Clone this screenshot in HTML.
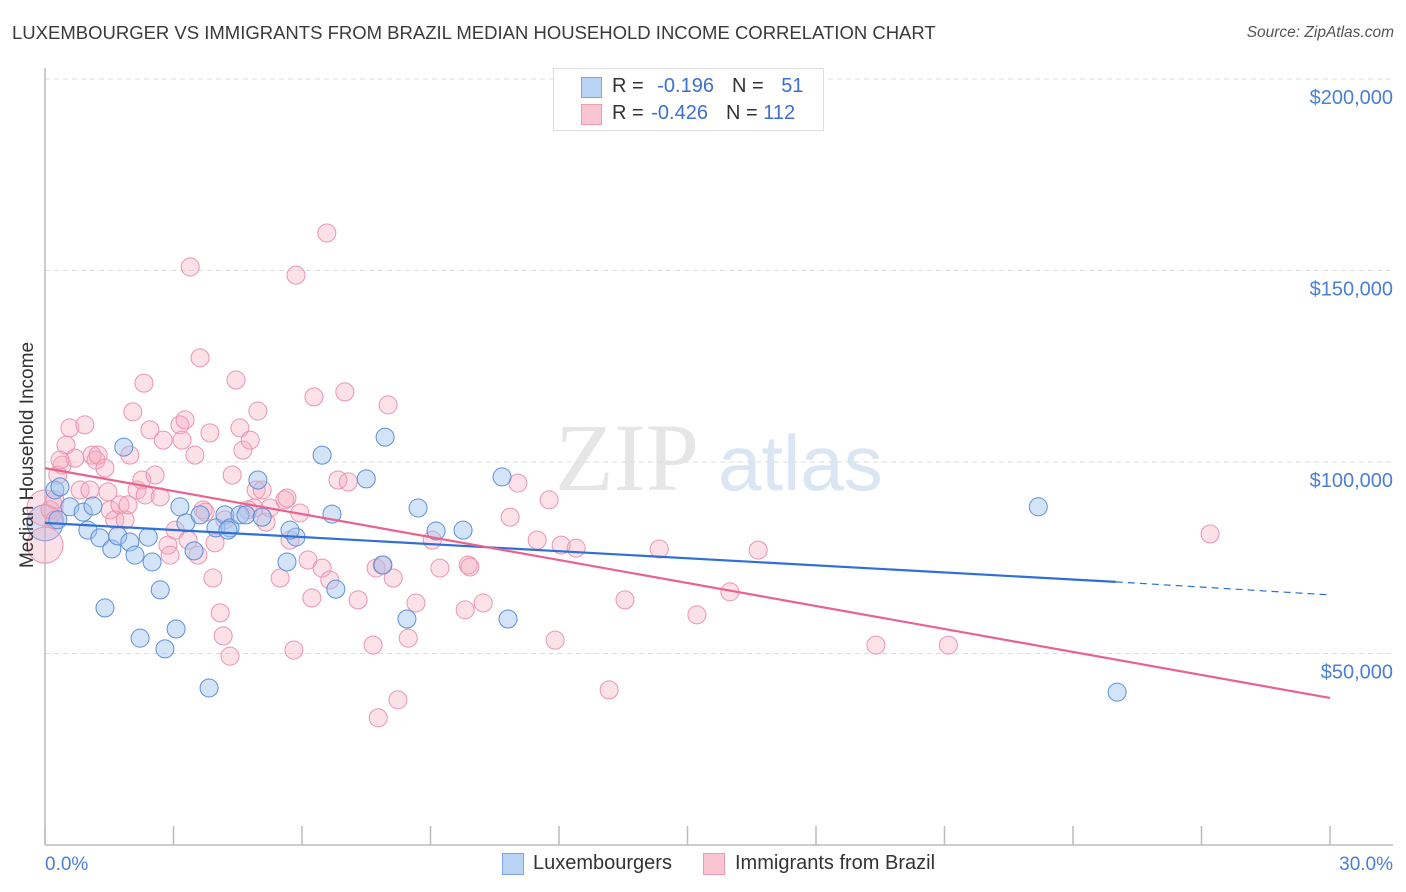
<!DOCTYPE html>
<html><head><meta charset="utf-8"><style>
body{margin:0;background:#fff;font-family:"Liberation Sans",sans-serif;}
#wrap{position:relative;width:1406px;height:892px;overflow:hidden;}
.t{position:absolute;white-space:nowrap;}
</style></head><body>
<div id="wrap">
<div class="t" style="left:12px;top:22px;font-size:18.5px;color:#3a3a3a">LUXEMBOURGER VS IMMIGRANTS FROM BRAZIL MEDIAN HOUSEHOLD INCOME CORRELATION CHART</div>
<div class="t" style="right:12px;top:24px;font-size:15.5px;color:#555;font-style:italic">Source: ZipAtlas.com</div>
<svg id="plot" width="1406" height="892" style="position:absolute;left:0;top:0"></svg>
<div class="t" style="left:16px;top:455px;transform:translate(-50%,-50%) rotate(-90deg);transform-origin:center;margin-left:12px;font-size:19px;color:#333">Median Household Income</div>
<div style="position:absolute;left:553px;top:68px;width:269px;height:61px;border:1px solid #ddd;background:#fff">
 <div style="position:absolute;left:27px;top:8px;width:19px;height:19px;background:#b9d3f5;border:1px solid #7aa6e6"></div>
 <div style="position:absolute;left:27px;top:35px;width:19px;height:19px;background:#f9c5d3;border:1px solid #ee9ab2"></div>
 <div class="t" style="left:58px;top:6px;font-size:20px;color:#333">R = <span style="color:#3d6fcf;margin-left:8px">-0.196</span><span style="margin-left:18px">N = </span><span style="color:#3d6fcf;margin-left:12px">51</span></div>
 <div class="t" style="left:58px;top:33px;font-size:20px;color:#333">R = <span style="color:#3d6fcf;margin-left:2px">-0.426</span><span style="margin-left:18px">N = </span><span style="color:#3d6fcf">112</span></div>
</div>
<div style="position:absolute;left:502px;top:853px;width:20px;height:20px;background:#b9d3f5;border:1px solid #7aa6e6"></div>
<div class="t" style="left:533px;top:852px;font-size:20px;color:#333">Luxembourgers</div>
<div style="position:absolute;left:703px;top:853px;width:20px;height:20px;background:#f9c5d3;border:1px solid #ee9ab2"></div>
<div class="t" style="left:735px;top:852px;font-size:20px;color:#333">Immigrants from Brazil</div>
</div>
<script>
const yTicks=[50000,100000,150000,200000];
const yTickLabels=["$50,000","$100,000","$150,000","$200,000"];
const xEnds=["0.0%","30.0%"];
const luxX=[0.23,0.35,0.30,0.58,0.89,1.12,1.00,1.28,1.56,1.70,1.84,1.98,2.10,2.41,2.50,2.69,1.40,2.22,2.80,3.06,3.15,3.29,3.48,3.83,3.99,4.20,4.32,4.55,4.69,4.97,5.07,5.65,5.86,6.47,6.70,6.79,7.50,7.89,7.94,8.45,8.71,9.13,9.76,10.67,10.81,23.19,25.03,3.62,4.27,5.72];
const luxY=[92.7,93.5,84.9,88.3,86.9,88.5,82.2,80.2,77.3,80.7,103.9,79.1,75.7,80.4,73.9,66.6,61.9,54.0,51.2,56.4,88.3,84.1,76.8,41.0,82.8,86.2,82.8,86.2,86.2,95.3,85.6,73.9,80.4,101.8,86.4,66.8,95.6,73.1,106.5,59.0,88.0,82.0,82.2,96.1,59.0,88.3,39.9,86.2,82.2,82.2];
const braX=[0.12,0.23,0.30,0.40,0.49,0.58,0.70,0.35,0.82,0.93,1.05,1.10,1.19,1.24,1.40,1.47,1.52,1.63,1.75,1.87,1.94,1.98,2.05,2.15,2.26,2.31,2.34,2.45,2.57,2.69,2.76,2.87,2.92,3.04,3.15,3.20,3.27,3.34,3.39,3.50,3.57,3.62,3.69,3.74,3.85,3.92,3.97,4.09,4.16,4.20,4.32,4.37,4.46,4.55,4.62,4.74,4.79,4.88,4.93,4.97,5.07,5.16,5.25,5.49,5.60,5.65,5.72,5.81,5.86,5.95,6.14,6.23,6.28,6.47,6.58,6.65,6.84,7.00,7.08,7.31,7.66,7.73,7.78,7.87,8.01,8.13,8.24,8.48,8.66,9.04,9.22,9.81,9.88,9.92,10.23,10.86,11.04,11.49,11.77,11.91,12.05,12.40,13.17,13.54,14.34,15.22,15.99,16.65,19.40,21.09,27.20,0.23];
const braY=[87.5,90.1,96.6,99.2,104.4,108.9,101.0,100.5,92.7,109.7,92.7,101.8,100.5,101.8,98.4,92.2,87.5,84.9,88.8,84.9,88.8,101.8,113.1,92.7,95.3,120.6,91.4,108.4,96.6,90.9,105.7,78.3,75.7,82.2,109.7,105.7,111.0,79.6,150.9,101.8,75.7,127.2,87.5,86.9,107.6,69.7,78.9,60.6,54.6,84.9,49.3,96.6,121.4,108.9,103.1,87.5,105.7,88.0,92.7,113.3,92.7,84.3,88.0,69.7,90.1,90.6,79.6,50.9,148.8,86.7,74.4,64.5,117.0,72.3,159.8,69.2,95.3,118.3,94.8,64.0,52.2,72.3,33.2,73.1,114.9,69.7,37.9,54.0,63.2,79.6,72.3,61.4,73.1,72.6,63.2,85.6,94.5,79.6,90.1,53.5,78.3,77.5,40.5,64.0,77.3,60.1,66.1,77.0,52.2,52.2,81.2,84.9];
const bigX=[0,0,0], bigY=[84.1,78.3,88.0], bigSeries=["lux","bra","bra"];
const luxTrend=[84.1,68.7,65.3], luxTrendX=[0,25,30];
const braTrend=[98.4,38.4], braTrendX=[0,30];
const X0=45,X1=1330,Y0=845,PXK=191.5/50;
const xs=v=>X0+(v/30)*(X1-X0), ys=k=>Y0-k*PXK;
const svg=document.getElementById('plot'),NS='http://www.w3.org/2000/svg';
function mk(t,a){const e=document.createElementNS(NS,t);for(const k in a)e.setAttribute(k,a[k]);svg.appendChild(e);return e;}
let w=mk('text',{x:555,y:490,'font-size':96,'font-family':'Liberation Serif,serif',fill:'#e6e6e6'});w.textContent='ZIP';

w=mk('text',{x:718,y:490,'font-size':78,'font-family':'Liberation Sans,sans-serif',fill:'#dbe6f5'});w.textContent='atlas';

yTicks.forEach((t,i)=>{const y=ys(t/1000);
 let g=mk('line',{x1:X0,x2:1393,y1:y,y2:y,stroke:'#ddd','stroke-dasharray':'5,4'});
 
 let l=mk('text',{x:1393,y:y+25,'text-anchor':'end','font-size':20,fill:'#4a7fd4','font-family':'Liberation Sans,sans-serif'});l.textContent=yTickLabels[i];
 });
let a=mk('line',{x1:X0,x2:X0,y1:68,y2:Y0,stroke:'#bbb','stroke-width':1.5});
a=mk('line',{x1:X0,x2:1393,y1:Y0,y2:Y0,stroke:'#bbb','stroke-width':1.5});
for(let i=0;i<=10;i++){const x=xs(i*3);const t=mk('line',{x1:x,x2:x,y1:826,y2:Y0,stroke:'#bbb','stroke-width':1.5});
 }
let xl=mk('text',{x:X0,y:870,'font-size':19,fill:'#4a7fd4','font-family':'Liberation Sans,sans-serif'});xl.textContent=xEnds[0];

xl=mk('text',{x:1393,y:870,'text-anchor':'end','font-size':19,fill:'#4a7fd4','font-family':'Liberation Sans,sans-serif'});xl.textContent=xEnds[1];

const sty={lux:{fill:'rgba(160,196,240,0.45)',stroke:'#5d8fdc'},bra:{fill:'rgba(246,170,192,0.35)',stroke:'#eb94ad'}};
bigX.forEach((v,i)=>{const s=sty[bigSeries[i]];const c=mk('circle',{cx:xs(v),cy:ys(bigY[i]),r:18,fill:s.fill,stroke:s.stroke,'stroke-width':1});
 });
braX.forEach((v,i)=>{const c=mk('circle',{cx:xs(v),cy:ys(braY[i]),r:9,fill:sty.bra.fill,stroke:sty.bra.stroke,'stroke-width':1});
 });
luxX.forEach((v,i)=>{const c=mk('circle',{cx:xs(v),cy:ys(luxY[i]),r:9,fill:sty.lux.fill,stroke:sty.lux.stroke,'stroke-width':1});
 });
let tl=mk('line',{x1:xs(luxTrendX[0]),y1:ys(luxTrend[0]),x2:xs(luxTrendX[1]),y2:ys(luxTrend[1]),stroke:'#2f6fd6','stroke-width':2.2});

tl=mk('line',{x1:xs(luxTrendX[1]),y1:ys(luxTrend[1]),x2:xs(luxTrendX[2]),y2:ys(luxTrend[2]),stroke:'#2f6fd6','stroke-width':1.2,'stroke-dasharray':'7,5'});

tl=mk('line',{x1:xs(braTrendX[0]),y1:ys(braTrend[0]),x2:xs(braTrendX[1]),y2:ys(braTrend[1]),stroke:'#e8638e','stroke-width':2.2});

</script>
</body></html>
